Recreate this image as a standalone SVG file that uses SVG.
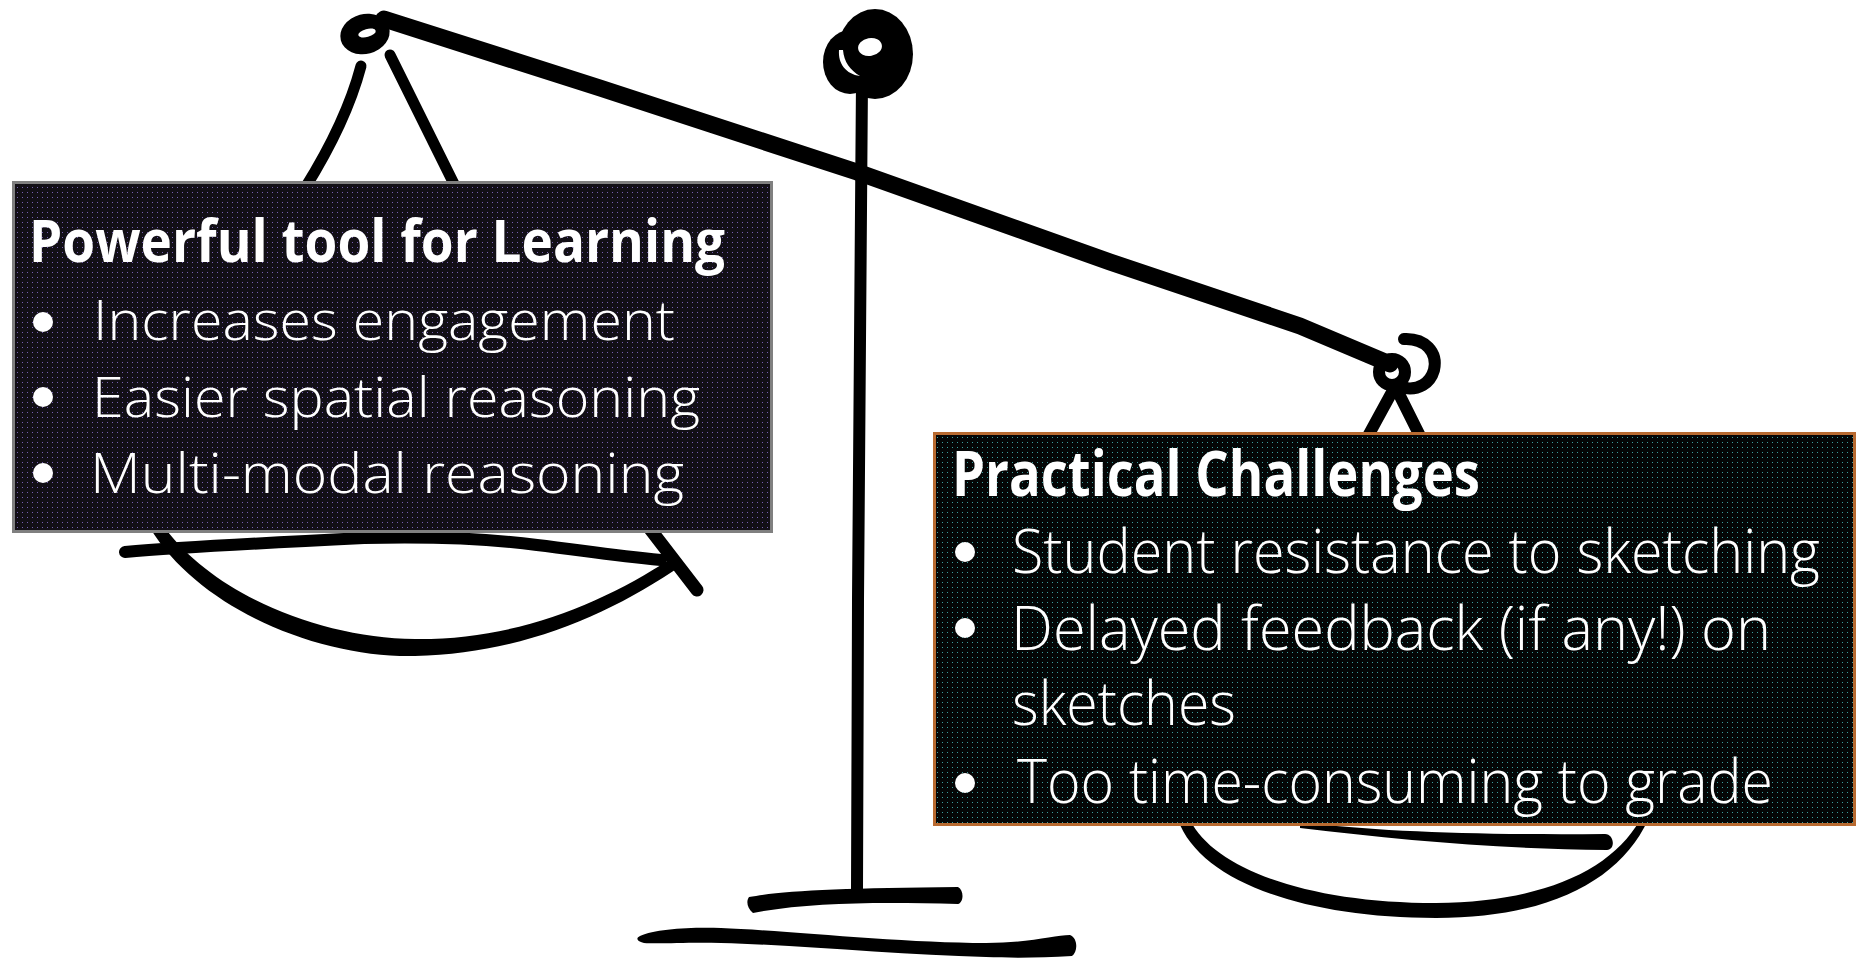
<svg xmlns="http://www.w3.org/2000/svg" width="1860" height="959" viewBox="0 0 1860 959">
  <defs>
    <pattern id="dotsPurple" width="5" height="5" patternUnits="userSpaceOnUse">
      <rect width="5" height="5" fill="#120f16"/>
      <rect x="2" y="2" width="1" height="1" fill="#7560b0"/>
    </pattern>
    <pattern id="dotsTeal" width="5" height="5" patternUnits="userSpaceOnUse">
      <rect width="5" height="5" fill="#040606"/>
      <rect x="2" y="2" width="1" height="1" fill="#3a9e9e"/>
    </pattern>
    <style>
      .ink { fill: none; stroke: #000; stroke-linecap: round; stroke-linejoin: round; }
      .solid { fill: #000; stroke: none; }
      .title { font-family: "Open Sans", "Liberation Sans", sans-serif; font-weight: 700; fill: #fff; }
      .item { font-family: "Open Sans", "Liberation Sans", sans-serif; font-weight: 300; fill: #fff; }
      .dot { fill: #fff; }
    </style>
  </defs>

  <rect width="1860" height="959" fill="#fff"/>

  <!-- balance beam -->
  <g id="beam">
    <path class="ink" d="M384,19 L600,88 L857,172 L1110,262 L1300,326 L1390,364" stroke-width="17" stroke-linecap="butt"/>
    <!-- left hook -->
    <ellipse class="solid" cx="365" cy="34" rx="25" ry="20" transform="rotate(-15 365 34)"/>
    <ellipse cx="367" cy="33" rx="9" ry="4" fill="#fff" transform="rotate(-15 367 33)"/>
    <!-- right hook -->
    <circle class="ink" cx="1392" cy="372" r="13" stroke-width="12"/>
    <path class="ink" d="M1404,339 C1425,338 1438,352 1434,370 C1430,384 1418,390 1405,388" stroke-width="12"/>
  </g>

  <!-- post with top knot -->
  <g id="pillar">
    <path class="ink" d="M862,80 C861,200 859,400 858,600 C857,750 857,850 857,892" stroke-width="12"/>
    <ellipse class="solid" cx="875" cy="54" rx="38" ry="45"/>
    <ellipse class="solid" cx="850" cy="62" rx="27" ry="32"/>
    <ellipse cx="870" cy="47" rx="12" ry="9" fill="#fff" transform="rotate(-10 870 47)"/>
    <path d="M839,50 C838,64 846,74 860,76 C850,70 844,62 843,50 Z" fill="#fff"/>
  </g>

  <!-- base strokes -->
  <g id="base">
    <path class="solid" d="M749,897 C780,891 840,888 958,887 C964,890 964,902 958,904 C880,902 810,902 753,913 C747,908 746,901 749,897 Z"/>
    <path class="solid" d="M640,936 C655,929 690,927 721,928 C780,930 900,943 986,943 C1030,943 1055,935 1070,935 C1078,938 1078,952 1072,956 C1040,958 1010,958 986,957 C900,955 800,945 721,943 C690,942 660,944 644,943 C636,941 636,938 640,936 Z"/>
  </g>

  <!-- hanging strings -->
  <g id="connectors">
    <path class="ink" d="M361,66 C352,100 335,140 305,188" stroke-width="11"/>
    <path class="ink" d="M390,55 L456,188" stroke-width="11"/>
    <path class="ink" d="M1368,436 L1392,392" stroke-width="12"/>
    <path class="ink" d="M1398,392 L1420,436" stroke-width="12"/>
  </g>

  <!-- left pan -->
  <g id="left-pan">
    <path class="ink" d="M125,552 C160,549 200,546 364,538 C450,536 500,540 537,545 C580,550 610,555 661,560" stroke-width="12"/>
    <path class="solid" d="M150,528 C200,610 320,658 415,656 C520,654 610,615 682,565 L672,558 C600,605 515,640 415,639 C320,638 215,595 165,528 Z"/>
    <path class="ink" d="M637,512 L697,590" stroke-width="13"/>
  </g>

  <!-- right pan -->
  <g id="right-pan">
    <path class="solid" d="M1300,822 C1380,832 1480,835 1605,834 C1614,834 1616,849 1607,850 C1500,849 1400,840 1300,828 Z"/>
    <path class="solid" d="M1178,820 C1200,880 1300,918 1436,918 C1550,918 1620,880 1648,820 L1640,820 C1610,872 1540,902 1436,903 C1310,903 1215,870 1190,820 Z"/>
  </g>

  <!-- benefits panel -->
  <g id="benefits">
    <rect x="13.5" y="182.5" width="758" height="349" fill="url(#dotsPurple)" stroke="#808080" stroke-width="3"/>
    <text class="title" x="29" y="262" font-size="59" textLength="696" lengthAdjust="spacingAndGlyphs">Powerful tool for Learning</text>
    <circle class="dot" cx="43" cy="322" r="10"/>
    <text class="item" x="93" y="340" font-size="55" textLength="582" lengthAdjust="spacingAndGlyphs">Increases engagement</text>
    <circle class="dot" cx="43" cy="397" r="10"/>
    <text class="item" x="92" y="417" font-size="55" textLength="608" lengthAdjust="spacingAndGlyphs">Easier spatial reasoning</text>
    <circle class="dot" cx="43" cy="473" r="10"/>
    <text class="item" x="90" y="493" font-size="55" textLength="594" lengthAdjust="spacingAndGlyphs">Multi-modal reasoning</text>
  </g>

  <!-- challenges panel -->
  <g id="challenges">
    <rect x="934.5" y="433.5" width="920" height="391" fill="url(#dotsTeal)" stroke="#b86a30" stroke-width="3"/>
    <text class="title" x="952" y="496" font-size="63" textLength="528" lengthAdjust="spacingAndGlyphs">Practical Challenges</text>
    <circle class="dot" cx="965" cy="552" r="10"/>
    <text class="item" x="1012" y="573" font-size="61" textLength="808" lengthAdjust="spacingAndGlyphs">Student resistance to sketching</text>
    <circle class="dot" cx="965" cy="628" r="10"/>
    <text class="item" x="1011" y="650" font-size="61" textLength="760" lengthAdjust="spacingAndGlyphs">Delayed feedback (if any!) on</text>
    <text class="item" x="1012" y="725" font-size="61" textLength="224" lengthAdjust="spacingAndGlyphs">sketches</text>
    <circle class="dot" cx="965" cy="783" r="10"/>
    <text class="item" x="1017" y="803" font-size="61" textLength="756" lengthAdjust="spacingAndGlyphs">Too time-consuming to grade</text>
  </g>
</svg>
